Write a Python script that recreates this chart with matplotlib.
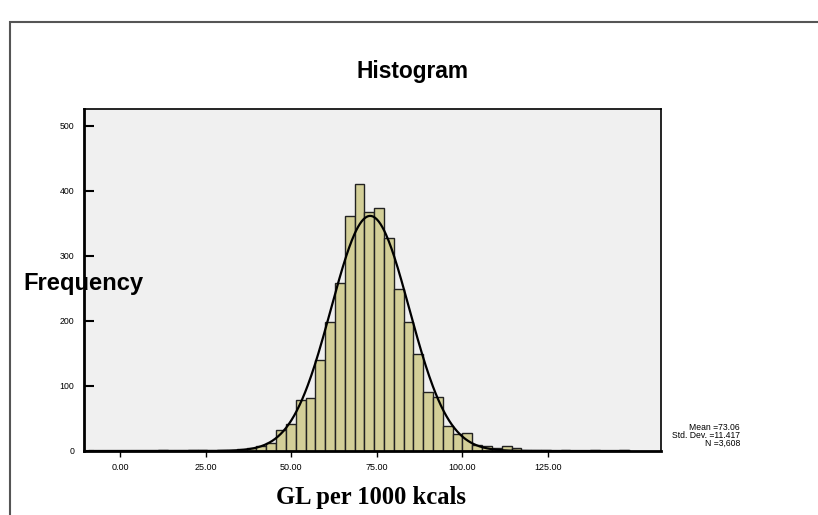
import numpy as np
import matplotlib
matplotlib.use('Agg')
import matplotlib.pyplot as plt
from matplotlib.patches import Rectangle
from matplotlib.ticker import FormatStrFormatter

# histogram bins (left edge of first bin, bin width) and counts per bin
bin_start = -8.93
bin_width = 2.868
counts = [0, 0, 0, 0, 0, 0, 0, 1, 0, 0, 1, 1, 0, 1, 1, 3,
          5, 8, 12, 32, 41, 79, 81, 140, 198, 259, 362, 411, 368, 374,
          328, 249, 198, 149, 91, 83, 39, 26, 28, 9, 8, 4, 7,
          4, 2, 1, 1, 0, 1, 0, 0, 1, 0, 0, 1]

mean_val = 73.06
std_val = 11.417
n_val = 3608

xticks = [0, 25, 50, 75, 100, 125]
yticks = [0, 100, 200, 300, 400, 500]

W, H = 818, 515
fig = plt.figure(figsize=(W / 100, H / 100), dpi=100)
fig.patch.set_facecolor('white')

# outer frame, runs off the right and bottom edge like the source
fig.patches.append(Rectangle((10 / W, -0.2), 1.5, 1.2 - 22 / H, fill=False,
                             lw=1.5, ec='#555555', transform=fig.transFigure))

ax = fig.add_axes([84 / W, 1 - 451 / H, (661 - 84) / W, (451 - 109) / H])
ax.set_facecolor('#f0f0f0')

edges = bin_start + bin_width * np.arange(len(counts))
ax.bar(edges, counts, width=bin_width, align='edge', color='#d3cf98',
       edgecolor='#222222', linewidth=1.0, zorder=2)

# fitted normal curve
xs = np.linspace(bin_start, bin_start + bin_width * len(counts), 600)
ys = n_val * bin_width / (std_val * np.sqrt(2 * np.pi)) * \
    np.exp(-0.5 * ((xs - mean_val) / std_val) ** 2)
ax.plot(xs, ys, color='black', lw=1.6, zorder=3)

ax.set_xlim(-10.6, 158.1)
ax.set_ylim(0, 526)
ax.set_xticks(xticks)
ax.set_yticks(yticks)
ax.xaxis.set_major_formatter(FormatStrFormatter('%.2f'))

for s in ['left', 'bottom']:
    ax.spines[s].set_linewidth(2)
for s in ['top', 'right']:
    ax.spines[s].set_linewidth(1.2)

ax.tick_params(axis='y', direction='in', length=7, width=1.5, pad=7,
               labelsize=6.3, labelfontfamily='Liberation Sans')
ax.tick_params(axis='x', direction='out', length=4, width=1, pad=5,
               labelsize=6.5, labelfontfamily='Liberation Sans')

fig.text(413 / W, 1 - 78 / H, 'Histogram', ha='center', va='baseline',
         fontsize=16.4, fontweight='bold', family='Liberation Sans')
fig.text(23 / W, 1 - 290 / H, 'Frequency', ha='left', va='baseline',
         fontsize=17.1, fontweight='bold', family='Liberation Sans')
fig.text(371 / W, 1 - 504 / H, 'GL per 1000 kcals', ha='center', va='baseline',
         fontsize=17.7, fontweight='bold', family='Liberation Serif')

stats = ['Mean =%.2f' % mean_val, 'Std. Dev. =%.3f' % std_val,
         'N =' + format(n_val, ',')]
for i, line in enumerate(stats):
    fig.text(740 / W, 1 - (430 + 8 * i) / H, line, ha='right', va='baseline',
             fontsize=6.2, family='Liberation Sans')

fig.savefig('out.png', dpi=100)
